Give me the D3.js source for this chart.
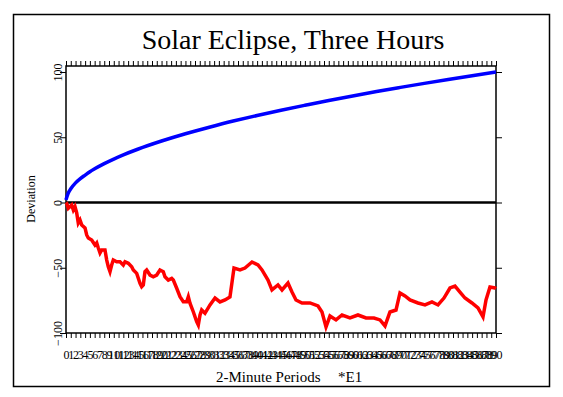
<!DOCTYPE html>
<html><head><meta charset="utf-8">
<script src="https://cdn.jsdelivr.net/npm/d3@7"></script>
<style>
html,body{margin:0;padding:0;background:#fff;}
text{font-family:"Liberation Serif","Times New Roman",serif;fill:#000;}
</style></head>
<body><svg id="c" width="563" height="397"></svg>
<script>
const title = "Solar Eclipse, Three Hours";
const xTitle = "2-Minute Periods";
const xScaleNote = "*E1";
const yTitle = "Deviation";
const xTickValues = d3.range(0, 91);
const yTickValues = [-100, -50, 0, 50, 100];

// Blue series
const blueX = [0,0.25,0.5,1,2,3,4,5,6,8,10,12,15,20,25,30,35,40,45,50,55,60,65,70,75,80,85,90];
const blueY = [2,5,7.5,10.5,15,18.3,21,23.6,25.8,29.8,33.3,36.5,40.8,47.1,52.7,57.7,62.4,66.7,70.7,74.5,78.2,81.6,85,88.2,91.3,94.3,97.2,100];

// Red series
const redX = [0,0.15,0.48,1.19,1.53,1.88,2.24,2.57,2.93,3.29,3.98,4.33,4.67,5.38,6.07,6.43,6.76,7.12,7.47,8.16,8.52,8.85,9.21,9.56,9.9,10.61,11.3,11.99,12.35,13.04,13.75,14.09,14.8,15.49,15.84,16.18,16.53,16.89,17.58,18.27,18.98,19.67,20.36,20.72,21.41,22.12,22.46,23.17,23.86,24.55,25.26,25.6,25.95,26.64,27.35,27.69,28.05,28.4,29.09,30.14,31.19,32.23,33.28,34.32,35.16,36.42,37.46,38.93,40.18,41.02,42.28,43.11,44.37,45.21,46.46,47.3,48.14,49.39,51.07,52.74,53.58,54.42,55.25,56.51,57.77,59.44,61.11,62.79,64.46,65.72,66.77,67.81,69.07,69.9,70.95,72,73.67,75.14,76.6,77.86,79.11,80.37,81.42,82.46,83.51,84.97,86.23,87.28,87.91,88.74,89.79,90];
const redY = [0,-0.6,-4.4,-1.9,-5.7,-3.2,-8,-15.7,-13.4,-17.2,-19.5,-24.9,-27.2,-28.7,-32.6,-31,-34.9,-38.7,-36.4,-36.4,-44.1,-49.2,-53,-47.9,-44.1,-45.4,-45.4,-47.9,-45.4,-46.6,-49.2,-51.7,-54.3,-61.9,-64.5,-63.2,-53,-51.7,-55.6,-56.9,-55.6,-51.7,-53,-56.9,-59.4,-58.1,-59.4,-65.7,-72.2,-76,-76,-72.2,-77.2,-83.7,-91.3,-93.9,-86.2,-82.4,-84.9,-78.5,-73.2,-76.2,-74.7,-72.4,-50.2,-51.7,-50.2,-45.6,-47.9,-51.7,-59.4,-67,-63.2,-67,-61.7,-68.6,-74.7,-77,-77,-79.3,-83.9,-95.4,-87,-90,-86.2,-88.5,-86.2,-88.5,-88.5,-90,-94.6,-83.9,-82.4,-69.3,-71.6,-74.7,-77,-78.5,-76.2,-78.5,-73.2,-65.5,-64,-68.6,-73.2,-77,-80.8,-87.7,-74.7,-64.8,-65.5,-66];

const svg = d3.select("#c");
svg.append("rect").attr("x",13.5).attr("y",14.5).attr("width",536).attr("height",372)
  .attr("fill","none").attr("stroke","#000").attr("stroke-width",1.5);

const L = 66, R = 496, T = 66, B = 333;
const x = d3.scaleLinear().domain([0, 90]).range([L, R]);
const y = d3.scaleLinear().domain([-100, 100]).range([B, 72]);

svg.append("rect").attr("x",L).attr("y",T).attr("width",R-L).attr("height",B-T)
  .attr("fill","none").attr("stroke","#000").attr("stroke-width",1.5);

const gB = svg.append("g").attr("transform",`translate(0,${B})`)
  .call(d3.axisBottom(x).tickValues(xTickValues).tickSize(5).tickPadding(12).tickFormat(d3.format("d")));
const gT = svg.append("g").attr("transform",`translate(0,${T})`)
  .call(d3.axisTop(x).tickValues(xTickValues).tickSize(5).tickFormat(""));
const gL = svg.append("g").attr("transform",`translate(${L},0)`)
  .call(d3.axisLeft(y).tickValues(yTickValues).tickSize(6).tickFormat(d3.format("d")));
const gR = svg.append("g").attr("transform",`translate(${R},0)`)
  .call(d3.axisRight(y).tickValues(yTickValues).tickSize(6).tickFormat(""));
[gB,gT,gL,gR].forEach(g=>{g.select(".domain").remove();g.selectAll("line").attr("stroke","#000").attr("stroke-width",1);});
gB.selectAll("text").attr("font-size",12).attr("font-family","Liberation Serif");
gL.selectAll("text").attr("font-size",12).attr("font-family","Liberation Serif")
  .attr("text-anchor","middle").attr("dy",0).attr("x",0).attr("y",0)
  .attr("transform","translate(-4,0) rotate(-90)");

svg.append("line").attr("x1",L).attr("x2",R).attr("y1",y(0)).attr("y2",y(0))
  .attr("stroke","#000").attr("stroke-width",2.5);

const blue = blueX.map((v,i)=>[v, blueY[i]]);
const red = redX.map((v,i)=>[v, redY[i]]);
svg.append("path").attr("d",d3.line().x(d=>x(d[0])).y(d=>y(d[1])).curve(d3.curveMonotoneX)(blue)).attr("fill","none")
  .attr("stroke","#0000ff").attr("stroke-width",3.5);
svg.append("path").attr("d",d3.line().x(d=>x(d[0])).y(d=>y(d[1]))(red)).attr("fill","none")
  .attr("stroke","#ff0000").attr("stroke-width",3.5);

svg.append("text").attr("x",293).attr("y",49).attr("text-anchor","middle").attr("font-size",28).text(title);
svg.append("text").attr("x",216).attr("y",382).attr("font-size",15).text(xTitle);
svg.append("text").attr("x",338).attr("y",382).attr("font-size",15).text(xScaleNote);
svg.append("text").attr("transform","translate(35,199) rotate(-90)").attr("text-anchor","middle").attr("font-size",12).text(yTitle);
</script></body></html>
